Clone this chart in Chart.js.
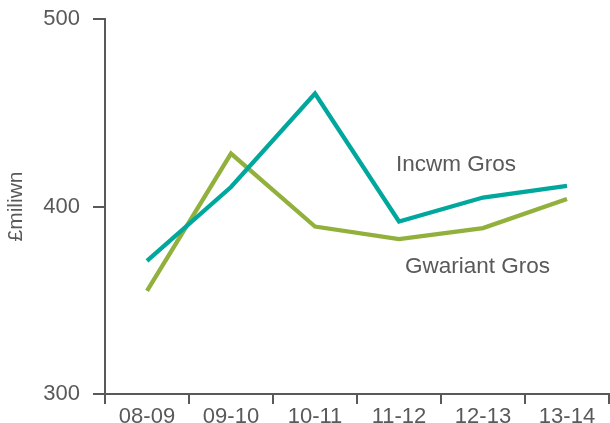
<!DOCTYPE html>
<html>
<head>
<meta charset="utf-8">
<script src="https://cdn.jsdelivr.net/npm/chart.js@4/dist/chart.umd.min.js"></script>
<style>
  html, body { margin: 0; padding: 0; background: #fff; }
  #wrap { width: 610px; height: 423px; }
</style>
</head>
<body>
<div id="wrap"><canvas id="chart" width="610" height="423"></canvas></div>
<script>
const years = ["08-09", "09-10", "10-11", "11-12", "12-13", "13-14"];
const incwmGros = [371, 410.4, 460.2, 392, 404.8, 411];
const gwariantGros = [355, 428.2, 389.3, 382.6, 388.5, 404];
const yTicks = [300, 400, 500];

// series labels drawn in the plot: text, category index, value
const labelText = ["Incwm Gros", "Gwariant Gros"];
const labelCat = [2.965, 3.07];
const labelValue = [422.3, 367.8];

const grey = "#595959";
const font = "'Liberation Sans', Arial, sans-serif";

const seriesLabels = {
  id: "seriesLabels",
  afterDatasetsDraw(chart) {
    const { ctx, scales } = chart;
    ctx.save();
    ctx.font = "22.5px " + font;
    ctx.fillStyle = grey;
    ctx.textAlign = "left";
    ctx.textBaseline = "middle";
    labelText.forEach((t, i) => {
      const x = scales.x.getPixelForValue(labelCat[i]);
      const y = scales.y.getPixelForValue(labelValue[i]);
      ctx.fillText(t, x, y);
    });
    ctx.restore();
  }
};

new Chart(document.getElementById("chart"), {
  type: "line",
  data: {
    labels: years,
    datasets: [
      { label: "Incwm Gros", data: incwmGros, borderColor: "#00a79d", borderWidth: 4.3 },
      { label: "Gwariant Gros", data: gwariantGros, borderColor: "#92b03c", borderWidth: 4.3 }
    ]
  },
  options: {
    responsive: false,
    animation: false,
    layout: { padding: { top: 19, right: 1, left: 0, bottom: 0 } },
    elements: {
      point: { radius: 0 },
      line: { tension: 0, borderJoinStyle: "miter", fill: false }
    },
    plugins: {
      legend: { display: false },
      tooltip: { enabled: false }
    },
    scales: {
      x: {
        offset: true,
        grid: { offset: true, drawOnChartArea: false, drawTicks: true, tickLength: 10, color: grey, lineWidth: 2 },
        border: { color: grey, width: 2 },
        ticks: { color: grey, font: { family: font, size: 22 }, padding: 0, maxRotation: 0 },
        afterFit(scale) { scale.height = 29; }
      },
      y: {
        min: 300,
        max: 500,
        afterBuildTicks(scale) { scale.ticks = yTicks.map(v => ({ value: v })); },
        grid: { drawOnChartArea: false, drawTicks: true, tickLength: 12, color: grey, lineWidth: 2 },
        border: { color: grey, width: 2 },
        ticks: { color: grey, font: { family: font, size: 22 }, padding: 13 },
        title: { display: true, text: "£miliwn", color: grey, font: { family: font, size: 21 }, padding: { top: 4, bottom: 4 } },
        afterFit(scale) {
          scale.width = 105;
          scale.paddingTop = 0;
          scale.paddingBottom = 0;
        }
      }
    }
  },
  plugins: [seriesLabels]
});
</script>
</body>
</html>
